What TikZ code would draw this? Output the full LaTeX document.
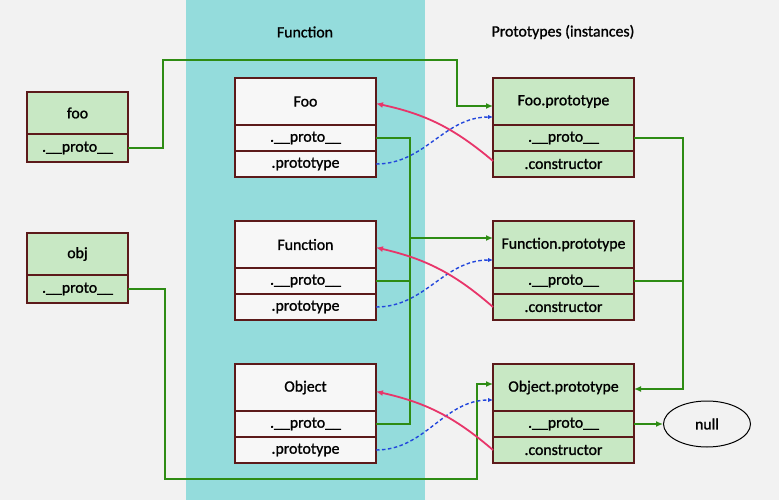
\documentclass[tikz,border=0pt]{standalone}
\usepackage{fontspec}
\setmainfont{Carlito}[FakeBold=1.2]
\usetikzlibrary{arrows.meta,shapes.geometric}
\definecolor{bgc}{HTML}{F2F2F2}
\definecolor{band}{HTML}{94DCDC}
\definecolor{wfill}{HTML}{F7F7F7}
\definecolor{gfill}{HTML}{C8E8C4}
\definecolor{border}{HTML}{5C1A1A}
\definecolor{gline}{HTML}{2E8C14}
\definecolor{rline}{HTML}{E8356A}
\definecolor{bline}{HTML}{2246DC}
\begin{document}
\begin{tikzpicture}[x=1pt,y=-1pt,font=\fontsize{15.8}{19}\selectfont,
  box/.style={draw=border,line width=2pt,inner sep=0pt,outer sep=0pt,anchor=north,minimum width=141pt},
  wbox/.style={box,fill=wfill},
  gbox/.style={box,fill=gfill},
  sbox/.style={box,fill=gfill,minimum width=101pt},
  hd/.style={minimum height=47pt},
  rw/.style={minimum height=26pt},
  gl/.style={draw=gline,line width=1.5pt},
  ga/.style={gl,-{Latex[length=7pt,width=6pt]}},
  rl/.style={draw=rline,line width=1.8pt,-{Latex[length=7pt,width=6pt]}},
  bl/.style={draw=bline,line width=1.4pt,dash pattern=on 3.5pt off 2.5pt,-{Latex[length=5pt,width=4.5pt]}},
  title/.style={inner sep=0pt}]
\useasboundingbox (0,0) rectangle (779,500);
\fill[bgc] (0,0) rectangle (779,500);
\fill[band] (186,0) rectangle (425,500);
\node[title] (t1) at (305,32) {Function};
\node[title] (t2) at (563,32) {Prototypes (instances)};
% left objects
\node[sbox,minimum height=42pt] (foo) at (77.5,92) {foo};
\node[sbox,minimum height=28pt] (fooR) at (77.5,134) {.\_\_proto\_\_};
\node[sbox,minimum height=42pt] (obj) at (77.5,233) {obj};
\node[sbox,minimum height=28pt] (objR) at (77.5,275) {.\_\_proto\_\_};
% functions
\node[wbox,hd] (Foo) at (305.5,78) {Foo};
\node[wbox,rw] (FooR1) at (305.5,125) {.\_\_proto\_\_};
\node[wbox,rw] (FooR2) at (305.5,151) {.prototype};
\node[wbox,hd] (Fun) at (305.5,221) {Function};
\node[wbox,rw] (FunR1) at (305.5,268) {.\_\_proto\_\_};
\node[wbox,rw] (FunR2) at (305.5,294) {.prototype};
\node[wbox,hd] (Obj) at (305.5,364) {Object};
\node[wbox,rw] (ObjR1) at (305.5,411) {.\_\_proto\_\_};
\node[wbox,rw] (ObjR2) at (305.5,437) {.prototype};
% prototypes
\node[gbox,hd] (FooP) at (563.5,78) {Foo.prototype};
\node[gbox,rw] (FooPR1) at (563.5,125) {.\_\_proto\_\_};
\node[gbox,rw] (FooPR2) at (563.5,151) {.constructor};
\node[gbox,hd] (FunP) at (563.5,221) {Function.prototype};
\node[gbox,rw] (FunPR1) at (563.5,268) {.\_\_proto\_\_};
\node[gbox,rw] (FunPR2) at (563.5,294) {.constructor};
\node[gbox,hd] (ObjP) at (563.5,364) {Object.prototype};
\node[gbox,rw] (ObjPR1) at (563.5,411) {.\_\_proto\_\_};
\node[gbox,rw] (ObjPR2) at (563.5,437) {.constructor};
\node[ellipse,draw=black,line width=1pt,fill=bgc,minimum width=87pt,minimum height=46pt,inner sep=0pt] (null) at (707,424) {null};
% green proto chains
\draw[ga] (fooR.east) -| (163,60) -| (457,106) -- ([yshift=-4.5pt]FooP.west);
\draw[gl] (FooR1.east) -| (410,424) -- (ObjR1.east);
\draw[gl] (FunR1.east) -- ++(34,0);
\coordinate (j1) at (410,238);
\draw[ga] (j1) -- ([yshift=6.5pt]FunP.west);
\draw[ga] (FooPR1.east) -| (683,389) -- ([yshift=-1.5pt]ObjP.east);
\draw[gl] (FunPR1.east) -- ++(49,0);
\draw[ga] (ObjPR1.east) -- (null.west);
\draw[ga] (objR.east) -| (165,479) -| (477,384) -- ([yshift=3.5pt]ObjP.west);
% blue prototype links
\draw[bl] (FooR2.east) to[out=0,in=180] ([yshift=8pt]FooP.south west);
\draw[bl] (FunR2.east) to[out=0,in=180] ([yshift=8pt]FunP.south west);
\draw[bl] (ObjR2.east) to[out=0,in=180] ([yshift=11pt]ObjP.south west);
% red constructor links
\draw[rl] ([yshift=3pt]FooPR2.west) to[bend right=14] ([yshift=-2pt]Foo.east);
\draw[rl] ([yshift=0pt]FunPR2.west) to[bend right=14] ([yshift=-3pt]Fun.east);
\draw[rl] ([yshift=0pt]ObjPR2.west) to[bend right=14] ([yshift=-4pt]Obj.east);
\end{tikzpicture}
\end{document}
